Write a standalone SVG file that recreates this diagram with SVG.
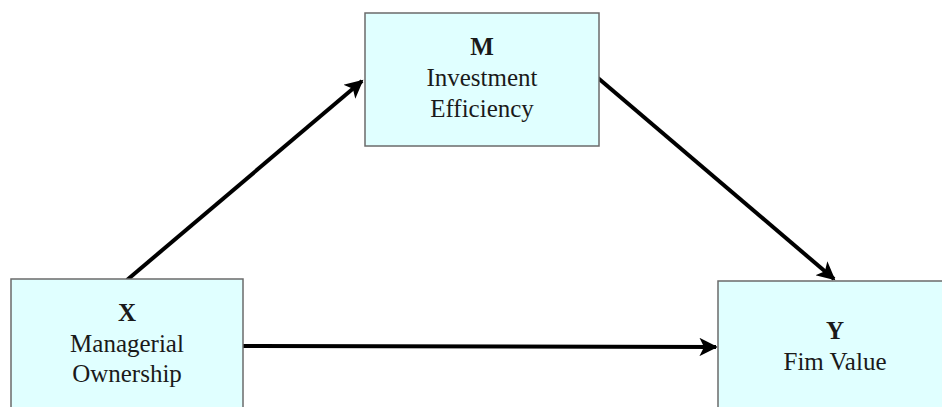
<svg xmlns="http://www.w3.org/2000/svg" width="942" height="407" viewBox="0 0 942 407">
<style>
.box{fill:#e0ffff;stroke:#6b6b6b;stroke-width:1.5}
.t{font-family:'Liberation Serif','Times New Roman','DejaVu Serif',serif;font-size:25px;fill:#1a1a1a;text-anchor:middle}
.b{font-weight:bold}
.c{stroke:#000;stroke-width:4;fill:none;marker-end:url(#ah)}
</style>
<defs>
<marker id="ah" viewBox="0 0 10 10" refX="9" refY="5" markerWidth="5" markerHeight="4.6" orient="auto" markerUnits="strokeWidth">
<path d="M0,0 L10,5 L0,10 L2.5,5 Z" fill="#000"/>
</marker>
</defs>
<rect width="942" height="407" fill="#fff"/>
<g id="connectors">
<line class="c" x1="127" y1="280" x2="362" y2="81"/>
<line class="c" x1="598" y1="78" x2="834" y2="279"/>
<line class="c" x1="243" y1="346" x2="716" y2="347"/>
</g>
<g id="node-M">
<rect class="box" x="365" y="13" width="234" height="133"/>
<text class="t b" x="482" y="55" font-family="Liberation Serif, serif">M</text>
<text class="t" x="482" y="86" font-family="Liberation Serif, serif">Investment</text>
<text class="t" x="482" y="117" font-family="Liberation Serif, serif">Efficiency</text>
</g>
<g id="node-X">
<rect class="box" x="11" y="279" width="232" height="140"/>
<text class="t b" x="127" y="321" font-family="Liberation Serif, serif">X</text>
<text class="t" x="127" y="352" font-family="Liberation Serif, serif">Managerial</text>
<text class="t" x="127" y="382" font-family="Liberation Serif, serif">Ownership</text>
</g>
<g id="node-Y">
<rect class="box" x="718" y="281" width="234" height="140"/>
<text class="t b" x="835" y="339" font-family="Liberation Serif, serif">Y</text>
<text class="t" x="835" y="370" font-family="Liberation Serif, serif">Fim Value</text>
</g>
</svg>
